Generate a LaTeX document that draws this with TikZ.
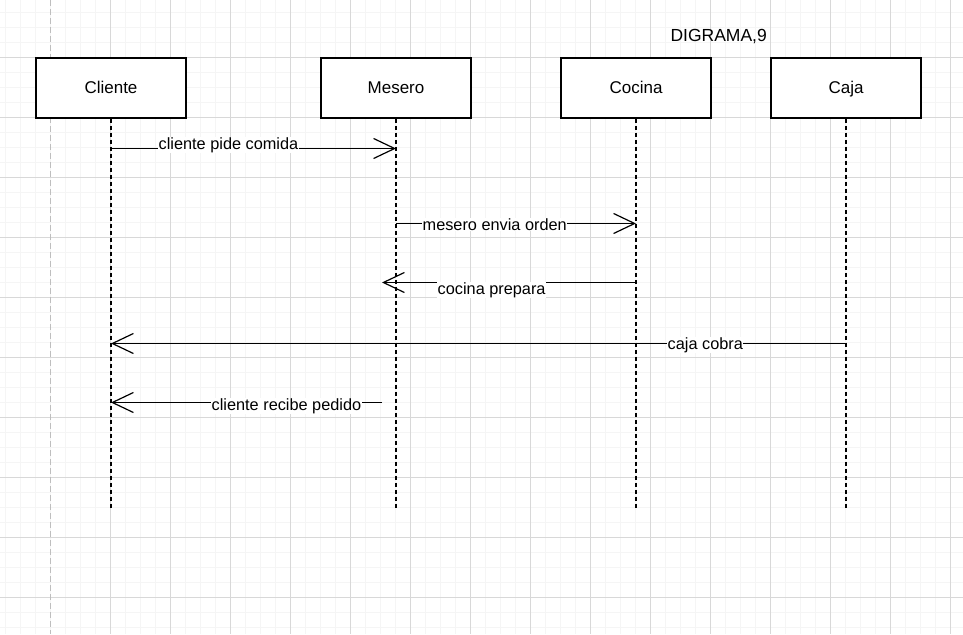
\documentclass[tikz,border=0pt]{standalone}
\usepackage{fontspec}
\setmainfont{Liberation Sans}
\usepackage{tikz}
\usetikzlibrary{arrows.meta, positioning}
\usepackage{xcolor}
\definecolor{gridmajor}{RGB}{216,216,216}
\definecolor{gridminor}{RGB}{245,245,245}
\definecolor{pagebreak}{RGB}{190,190,190}

\begin{document}
\begin{tikzpicture}[
			x=1pt, y=-1pt,
			every node/.style={font=\fontsize{17}{20}\selectfont},
			actor/.style={draw, line width=1.2pt, fill=white, minimum width=150pt, minimum height=60pt, inner sep=0pt, text height=13.5pt, text depth=2.9pt},
			lifeline/.style={line width=1.2pt, dash pattern=on 4pt off 3pt},
			msg/.style={line width=1.1pt, -{Straight Barb[length=21pt, width=20pt, line width=1.2pt]}},
			lbl/.style={font=\fontsize{16.3}{19}\selectfont, fill=white, inner sep=0.5pt, anchor=base west},
			minorline/.style={gridminor, line width=1.2pt},
			majorline/.style={gridmajor, line width=0.9pt},
			]
			
			\fill[white] (0,0) rectangle (963,634);
			\useasboundingbox (0,0) rectangle (963,634);
			
			% grid
			\foreach \x in {5.5,20.5,...,962} \draw[minorline] (\x,0) -- (\x,634);
			\foreach \y in {12.5,27.5,...,633} \draw[minorline] (0,\y) -- (963,\y);
			\foreach \x in {110.5,170.5,...,962} \draw[majorline] (\x,0) -- (\x,634);
			\foreach \y in {57.5,117.5,...,633} \draw[majorline] (0,\y) -- (963,\y);
			\draw[pagebreak, line width=1.2pt, dash pattern=on 6pt off 3pt] (50.5,0) -- (50.5,634);
			
			\node[anchor=base west, font=\fontsize{17.5}{20}\selectfont] (titulo) at (667,41.5) {DIGRAMA,9};
			
			\node[actor] (cliente) at (111,88) {Cliente};
			\node[actor] (mesero) at (396,88) {Mesero};
			\node[actor] (cocina) at (636,88) {Cocina};
			\node[actor] (caja) at (846,88) {Caja};
			
			\coordinate (cliente-fin) at (111,508);
			\coordinate (mesero-fin) at (396,508);
			\coordinate (cocina-fin) at (636,508);
			\coordinate (caja-fin) at (846,508);
			
			\draw[lifeline] (cliente) -- (cliente-fin);
			\draw[lifeline] (mesero) -- (mesero-fin);
			\draw[lifeline] (cocina) -- (cocina-fin);
			\draw[lifeline] (caja) -- (caja-fin);
			
			\coordinate (pide-a) at (111,148.5);
			\coordinate (pide-b) at (396,148.5);
			\coordinate (orden-a) at (396,223.5);
			\coordinate (orden-b) at (636,223.5);
			\coordinate (prepara-a) at (636,282.5);
			\coordinate (prepara-b) at (382,282.5);
			\coordinate (cobra-a) at (846,343.5);
			\coordinate (cobra-b) at (111,343.5);
			\coordinate (recibe-a) at (382,402.5);
			\coordinate (recibe-b) at (111,402.5);
			
			\draw[msg] (pide-a) -- (pide-b);
			\draw[msg] (orden-a) -- (orden-b);
			\draw[msg] (prepara-a) -- (prepara-b);
			\draw[msg] (cobra-a) -- (cobra-b);
			\draw[msg] (recibe-a) -- (recibe-b);
			
			\node[lbl] (pide) at (158,149.3) {cliente pide comida};
			\node[lbl] (orden) at (422,230) {mesero envia orden};
			\node[lbl] (prepara) at (437,294) {cocina prepara};
			\node[lbl] (cobra) at (667,349.3) {caja cobra};
			\node[lbl] (recibe) at (211,410.5) {cliente recibe pedido};
			
		\end{tikzpicture}
\end{document}
